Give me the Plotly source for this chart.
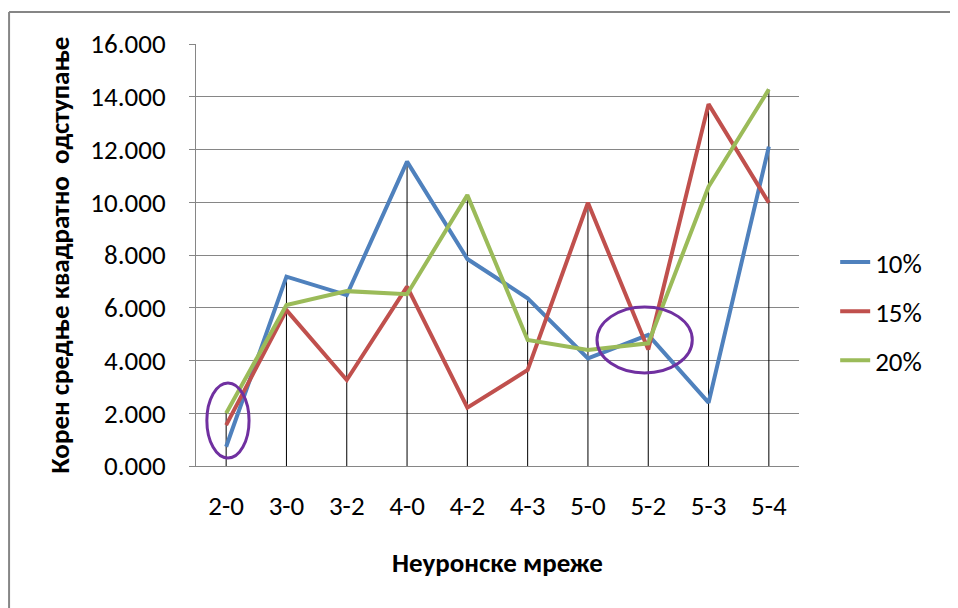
import plotly.graph_objects as go

# podaci
mreze = ["2-0", "3-0", "3-2", "4-0", "4-2", "4-3", "5-0", "5-2", "5-3", "5-4"]
rmse_10 = [0.73, 7.18, 6.48, 11.54, 7.85, 6.36, 4.08, 4.97, 2.40, 12.11]
rmse_15 = [1.55, 5.91, 3.26, 6.80, 2.21, 3.64, 9.98, 4.42, 13.72, 9.98]
rmse_20 = [2.00, 6.10, 6.63, 6.51, 10.27, 4.78, 4.40, 4.65, 10.59, 14.28]
nazivi = ["10%", "15%", "20%"]

boje = ["#4F81BD", "#C0504D", "#9BBB59"]
font_fam = "Calibri, Carlito, Lato, sans-serif"

fig = go.Figure()

# vertikalne linije od najvise tacke do ose (drop lines)
dx, dy = [], []
for i, m in enumerate(mreze):
    top = max(rmse_10[i], rmse_15[i], rmse_20[i])
    dx += [m, m, None]
    dy += [0, top, None]
fig.add_trace(go.Scatter(
    x=dx, y=dy, mode="lines",
    line=dict(color="black", width=1),
    showlegend=False, hoverinfo="skip"
))

for i, (vals, ime) in enumerate(zip([rmse_10, rmse_15, rmse_20], nazivi)):
    fig.add_trace(go.Scatter(
        x=mreze, y=vals, mode="lines", name=ime,
        legendgroup=ime,
        line=dict(color=boje[i], width=4)
    ))

# ljubicaste elipse
for x0, x1, y0, y1 in [(-0.32, 0.38, 0.30, 3.15), (6.15, 7.73, 3.53, 6.03)]:
    fig.add_shape(type="circle", xref="x", yref="y",
                  x0=x0, x1=x1, y0=y0, y1=y1,
                  line=dict(color="#7030A0", width=3), layer="above")

# okvir grafikona (samo levo i gore, ostalo je odseceno)
okvir = dict(color="#868686", width=2)
fig.add_shape(type="line", xref="paper", yref="paper",
              x0=-0.31, x1=-0.31, y0=-0.4, y1=1.076, line=okvir)
fig.add_shape(type="line", xref="paper", yref="paper",
              x0=-0.31, x1=1.4, y0=1.076, y1=1.076, line=okvir)

fig.update_layout(
    width=950, height=600,
    margin=dict(l=188, r=159, t=36, b=142),
    plot_bgcolor="white", paper_bgcolor="white",
    font=dict(family=font_fam, size=27, color="black"),
    showlegend=True,
    legend=dict(x=1.06, y=0.366, xanchor="left", yanchor="middle",
                tracegroupgap=11, font=dict(size=27),
                bgcolor="rgba(0,0,0,0)"),
)

fig.update_xaxes(
    type="category", range=[-0.5, 9.5],
    showgrid=False, showline=True, linecolor="#868686", linewidth=1,
    ticks="", ticklabelstandoff=16,
    title=dict(text="<b>Неуронске мреже</b>", font=dict(size=27), standoff=31),
)
fig.update_yaxes(
    range=[0, 16], dtick=2, tickformat=".3f",
    showgrid=True, gridcolor="#868686", gridwidth=1,
    showline=True, linecolor="#868686", linewidth=1,
    ticks="outside", ticklen=6, tickcolor="#868686",
    ticklabelstandoff=18, zeroline=False,
    title=dict(text="<b>Корен средње квадратно  одступање</b>", font=dict(size=27), standoff=12),
)

fig.write_html("out.html")
